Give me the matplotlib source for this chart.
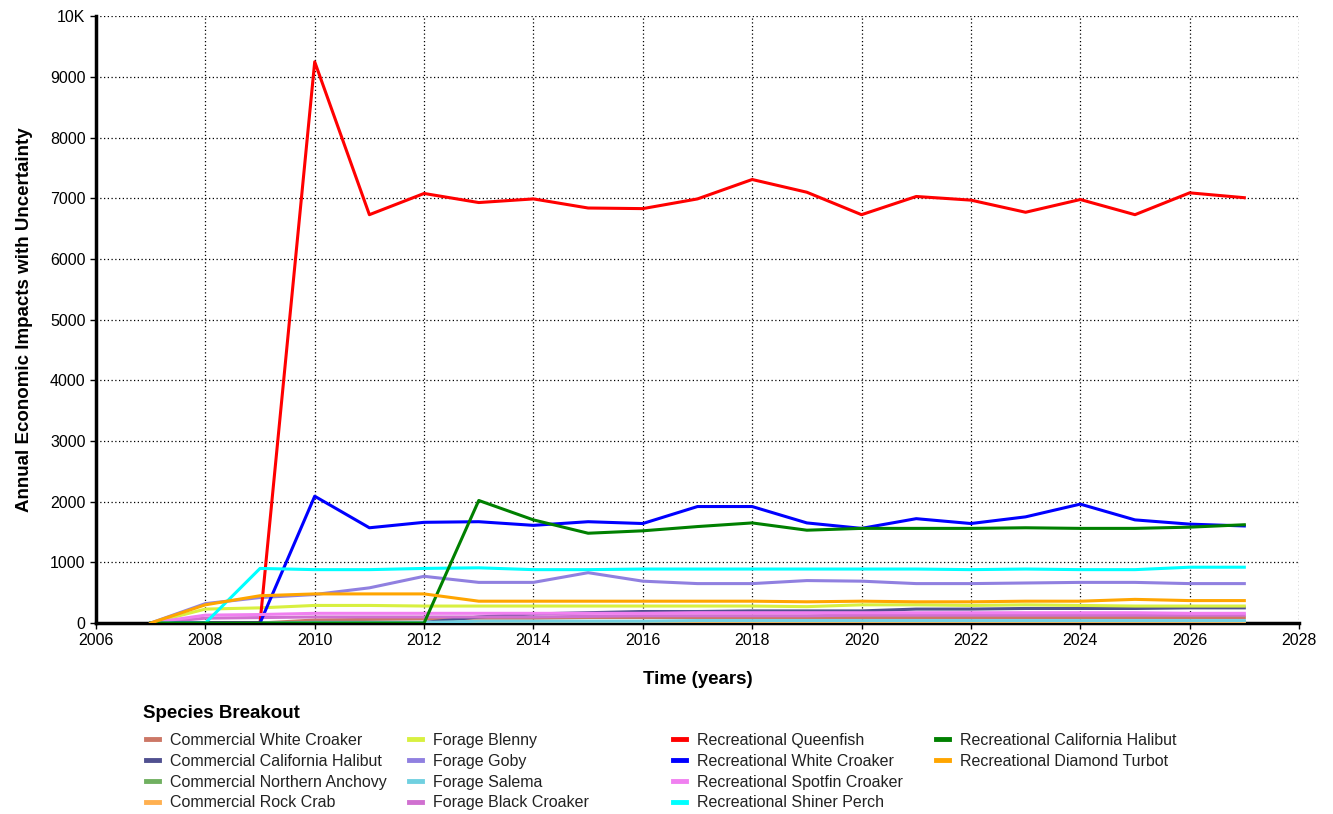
import matplotlib
matplotlib.use("Agg")
import matplotlib.pyplot as plt
from matplotlib.lines import Line2D

plt.rcParams['font.family'] = ['Liberation Sans', 'DejaVu Sans']

years = list(range(2007, 2028))

# series values, one value per year 2007..2027
comm_white_croaker = [0, 0, 0, 50, 60, 70, 80, 80, 90, 90, 90, 90, 90, 90, 90, 90, 90, 90, 90, 90, 90]
comm_ca_halibut = [0, 0, 0, 10, 10, 10, 100, 150, 170, 190, 190, 200, 200, 200, 230, 230, 240, 240, 240, 250, 250]
comm_anchovy = [0, 0, 0, 0, 0, 0, 20, 20, 20, 20, 20, 20, 20, 20, 20, 20, 20, 20, 20, 20, 20]
comm_rock_crab = [0, 0, 0, 0, 0, 0, 0, 5, 5, 5, 5, 5, 5, 5, 10, 10, 5, 5, 5, 5, 5]
forage_blenny = [0, 230, 250, 290, 290, 280, 280, 280, 280, 280, 280, 280, 270, 300, 300, 290, 300, 290, 280, 280, 280]
forage_goby = [0, 320, 420, 470, 580, 770, 670, 670, 830, 690, 650, 650, 700, 690, 650, 650, 660, 670, 670, 650, 650]
forage_salema = [0, 0, 0, 10, 10, 10, 30, 30, 30, 30, 40, 40, 40, 40, 40, 40, 40, 40, 40, 40, 40]
forage_black_croaker = [0, 80, 90, 100, 100, 100, 100, 100, 110, 120, 120, 120, 120, 130, 130, 130, 130, 130, 130, 130, 130]
rec_queenfish = [0, 0, 0, 9250, 6730, 7080, 6930, 6990, 6840, 6830, 6990, 7310, 7100, 6730, 7030, 6970, 6770, 6980, 6730, 7090, 7010]
rec_white_croaker = [0, 0, 0, 2090, 1570, 1660, 1670, 1610, 1670, 1640, 1920, 1920, 1650, 1560, 1720, 1640, 1750, 1960, 1700, 1630, 1600]
rec_spotfin = [0, 130, 140, 160, 160, 160, 160, 160, 160, 160, 170, 170, 170, 170, 170, 170, 170, 170, 170, 160, 160]
rec_shiner_perch = [0, 0, 900, 880, 880, 900, 910, 880, 880, 890, 890, 890, 890, 890, 890, 880, 890, 880, 880, 920, 920]
rec_ca_halibut = [0, 0, 0, 0, 0, 0, 2020, 1700, 1480, 1520, 1590, 1650, 1530, 1560, 1560, 1560, 1570, 1560, 1560, 1580, 1620]
rec_diamond_turbot = [0, 300, 450, 480, 480, 480, 360, 360, 360, 360, 360, 360, 350, 360, 350, 350, 360, 360, 390, 370, 370]

series = [
    ("Commercial White Croaker", comm_white_croaker, "#cc7766"),
    ("Commercial California Halibut", comm_ca_halibut, "#505090"),
    ("Commercial Northern Anchovy", comm_anchovy, "#70b060"),
    ("Commercial Rock Crab", comm_rock_crab, "#ffb050"),
    ("Forage Blenny", forage_blenny, "#d8f040"),
    ("Forage Goby", forage_goby, "#9080e0"),
    ("Forage Salema", forage_salema, "#70d0e0"),
    ("Forage Black Croaker", forage_black_croaker, "#d070d0"),
    ("Recreational Queenfish", rec_queenfish, "#ff0000"),
    ("Recreational White Croaker", rec_white_croaker, "#0000ff"),
    ("Recreational Spotfin Croaker", rec_spotfin, "#f080f0"),
    ("Recreational Shiner Perch", rec_shiner_perch, "#00ffff"),
    ("Recreational California Halibut", rec_ca_halibut, "#008000"),
    ("Recreational Diamond Turbot", rec_diamond_turbot, "#ffa500"),
]

fig = plt.figure(figsize=(13.33, 8.14), dpi=100)
ax = fig.add_axes([0.072, 0.2346, 0.9025, 0.7454])

handles = {}
for name, vals, col in series:
    ln, = ax.plot(years, vals, color=col, linewidth=2.2, label=name, zorder=3)
    handles[name] = ln

ax.set_xlim(2006, 2028)
ax.set_ylim(0, 10000)
ax.set_xticks(range(2006, 2029, 2))
ax.set_yticks(range(0, 10001, 1000))
ax.set_yticklabels([str(v) for v in range(0, 10000, 1000)] + ["10K"])
ax.tick_params(labelsize=11.5, direction='out', length=4, width=1, color='black')
ax.grid(True, color='black', linestyle=(0, (1, 2)), linewidth=0.9)
ax.spines['top'].set_visible(False)
ax.spines['right'].set_visible(False)
ax.spines['left'].set_linewidth(2.5)
ax.spines['bottom'].set_linewidth(2.5)
ax.spines['left'].set_zorder(5)
ax.spines['bottom'].set_zorder(2)

ax.set_xlabel("Time (years)", fontsize=13.5, fontweight='bold', labelpad=16)
ax.set_ylabel("Annual Economic Impacts with Uncertainty", fontsize=13.5, fontweight='bold', labelpad=12)

fig.text(143 / 1333, 1 - 713 / 814, "Species Breakout", fontsize=13.5, fontweight='bold', va='center')

columns = [
    ["Commercial White Croaker", "Commercial California Halibut", "Commercial Northern Anchovy", "Commercial Rock Crab"],
    ["Forage Blenny", "Forage Goby", "Forage Salema", "Forage Black Croaker"],
    ["Recreational Queenfish", "Recreational White Croaker", "Recreational Spotfin Croaker", "Recreational Shiner Perch"],
    ["Recreational California Halibut", "Recreational Diamond Turbot"],
]
col_x = [146, 409, 673, 936]
for cx, names in zip(col_x, columns):
    hs = [Line2D([], [], color=handles[n].get_color(), linewidth=3.5) for n in names]
    leg = fig.legend(hs, names, loc='upper left', bbox_to_anchor=(cx / 1333, 1 - 733 / 814),
                     frameon=False, fontsize=11.5, handlelength=0.8, handletextpad=0.7,
                     labelspacing=0.36, borderaxespad=0, borderpad=0)
    for t in leg.get_texts():
        t.set_color('#222222')

fig.savefig("out.png", dpi=100)
